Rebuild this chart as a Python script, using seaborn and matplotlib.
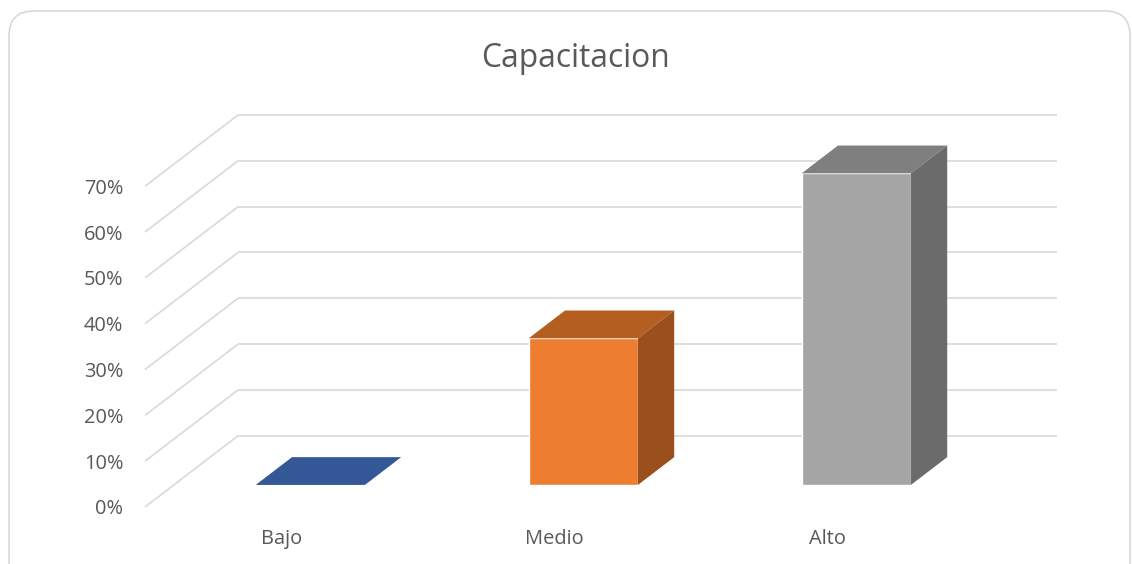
import matplotlib
matplotlib.use("Agg")
import matplotlib.pyplot as plt
from matplotlib.patches import FancyBboxPatch
import seaborn as sns

# Survey results: share of respondents per training level
categorias = ["Bajo", "Medio", "Alto"]
valores = [0, 32, 68]
y_ticks = [0, 10, 20, 30, 40, 50, 60, 70]
y_tick_labels = ["0%", "10%", "20%", "30%", "40%", "50%", "60%", "70%"]
titulo = "Capacitacion"

# Face colours: front, top, side for each bar
front_colors = ["#4472C4", "#ED7D31", "#A5A5A5"]
top_colors = ["#345795", "#B45E22", "#7F7F7F"]
side_colors = ["#2C4A80", "#9A4F1C", "#6B6B6B"]

sns.set_theme(style="white")
plt.rcParams["font.family"] = ["Open Sans", "DejaVu Sans"]

TEXT = "#595959"
GRID = "#D9D9D9"

# Oblique projection of the depth axis (in data units)
DEPTH_X = 0.3407
DEPTH_Y = 15.54
BAR_FRONT = 0.31   # fraction of depth where bars start
BAR_BACK = 0.70    # fraction of depth where bars end
BAR_W = 0.4

fig = plt.figure(figsize=(11.32, 5.64), dpi=100)
fig.patch.set_facecolor("white")

# Chart-area frame with rounded corners
frame = FancyBboxPatch((9 / 1132, -0.1), 1121 / 1132, 1.1 - 11 / 564,
                       boxstyle="round,pad=0,rounding_size=0.022",
                       transform=fig.transFigure, facecolor="none",
                       edgecolor=GRID, linewidth=1.2, mutation_aspect=2.0)
fig.patches.append(frame)

ax = fig.add_axes([145 / 1132, (564 - 507) / 564, 912 / 1132, 392 / 564])
ax.set_facecolor("none")

# Left wall and back wall gridlines
x_left = -0.5
x_right = len(categorias) - 0.5 + DEPTH_X
for t in y_ticks:
    ax.plot([x_left, x_left + DEPTH_X], [t, t + DEPTH_Y], color=GRID,
            lw=1.2, zorder=1, clip_on=False, solid_capstyle="butt")
    ax.plot([x_left + DEPTH_X, x_right], [t + DEPTH_Y, t + DEPTH_Y],
            color=GRID, lw=1.2, zorder=1, clip_on=False, solid_capstyle="butt")

# Front faces of the bars
sns.barplot(x=categorias, y=valores, hue=categorias, palette=front_colors,
            width=BAR_W, saturation=1, legend=False, ax=ax, zorder=3)

fdx, fdy = BAR_FRONT * DEPTH_X, BAR_FRONT * DEPTH_Y
bdx, bdy = BAR_BACK * DEPTH_X, BAR_BACK * DEPTH_Y

bars = [p for c in ax.containers for p in c]
for i, (bar, v) in enumerate(zip(bars, valores)):
    x0 = bar.get_x()
    w = bar.get_width()
    bar.set_x(x0 + fdx)
    bar.set_y(fdy)
    bar.set_zorder(3)
    # top face
    ax.fill([x0 + fdx, x0 + w + fdx, x0 + w + bdx, x0 + bdx],
            [v + fdy, v + fdy, v + bdy, v + bdy],
            color=top_colors[i], lw=0, zorder=3, clip_on=False)
    # right side face
    if v > 0:
        ax.fill([x0 + w + fdx, x0 + w + bdx, x0 + w + bdx, x0 + w + fdx],
                [fdy, bdy, v + bdy, v + fdy],
                color=side_colors[i], lw=0, zorder=3, clip_on=False)

ax.set_xlim(x_left, x_right)
ax.set_ylim(0, 70 + DEPTH_Y)
ax.set_yticks(y_ticks)
ax.set_yticklabels(y_tick_labels)
ax.set_xticks(range(len(categorias)))
ax.set_xticklabels(categorias)
ax.tick_params(axis="y", length=0, pad=15.5, labelsize=14.4, labelcolor=TEXT)
ax.tick_params(axis="x", length=0, pad=16, labelsize=14.4, labelcolor=TEXT)
ax.set_xlabel("")
ax.set_ylabel("")
for s in ax.spines.values():
    s.set_visible(False)

fig.text(575.7 / 1132, 1 - 66.7 / 564, titulo, ha="center", va="baseline",
         fontsize=22.9, color=TEXT)

fig.savefig("out.png", dpi=100, facecolor="white")
